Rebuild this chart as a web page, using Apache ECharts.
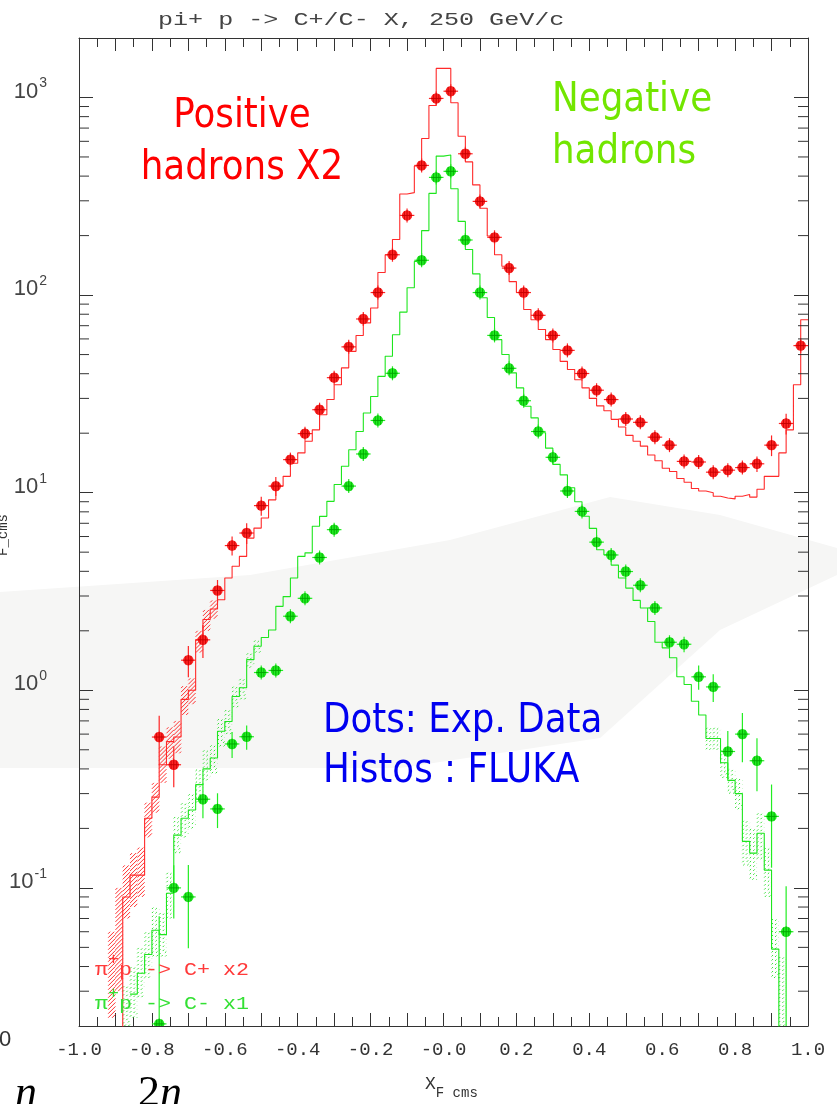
<!DOCTYPE html>
<html>
<head>
<meta charset="utf-8">
<title>pi+ p -> C+/C- X, 250 GeV/c</title>
<script src="https://cdn.jsdelivr.net/npm/echarts@6/dist/echarts.min.js"></script>
<style>
  html, body { margin: 0; padding: 0; background: #fff; }
  #chart { width: 837px; height: 1104px; }
</style>
</head>
<body>
<div id="chart"></div>
<script>
// FLUKA histograms, fixed width bins starting at histStart
var binWidth = 0.02
var redHistStart = -0.90
var redHist = [
  0.01, 0.090, 0.116, 0.116, 0.225, 0.288, 0.42, 0.55, 0.58, 0.90,
  1.0, 1.8, 2.28, 2.58, 2.87, 3.70, 4.24, 4.76, 5.89, 6.62,
  7.45, 9.2, 10.8, 12.1, 14.1, 15.9, 18.2, 20.8, 24.8, 29.6,
  35.2, 42.8, 51.9, 62.4, 72.3, 86.1, 130, 160, 191, 325,
  330, 450, 620, 911, 1403, 1403, 940, 637, 472, 361,
  275, 199, 160, 140, 117, 103, 84.5, 75, 67, 59.5,
  53, 46.2, 42, 37.3, 33.9, 30, 27.5, 26, 23.5, 21.5,
  19.5, 18.2, 17.2, 15.5, 14.5, 13.3, 12.8, 11.8, 11.3, 10.5,
  10.2, 10.0, 9.6, 9.4, 9.3, 9.6, 9.8, 9.5, 10.4, 12.1,
  12.1, 15.9, 20.8, 35.2, 75
]
var greenHistStart = -0.86
var greenHist = [
  0.029, 0.037, 0.046, 0.061, 0.058, 0.094, 0.185, 0.225, 0.248, 0.333,
  0.40, 0.454, 0.62, 0.695, 0.93, 1.03, 1.43, 1.67, 1.85, 2.02,
  2.66, 2.98, 3.70, 4.76, 4.96, 6.76, 7.59, 9.04, 11.0, 13.6,
  16.5, 20.4, 25.3, 30.7, 38.8, 49, 63, 82, 109, 148,
  212, 327, 505, 512, 345, 236, 170, 128, 97, 77,
  59.5, 50, 40.4, 33.9, 27.4, 23.9, 20.1, 16.8, 13.9, 12.3,
  10.6, 9.0, 7.6, 6.6, 5.14, 4.85, 4.3, 3.70, 3.29, 2.85,
  2.61, 2.23, 1.75, 1.64, 1.46, 1.17, 1.07, 0.88, 0.75, 0.57,
  0.57, 0.43, 0.35, 0.30, 0.172, 0.150, 0.189, 0.123, 0.049, 0.01
]

// hatched error bands of the histograms (bin left edge, low, high)
var redBandX  = [-0.92, -0.90, -0.88, -0.86, -0.84, -0.82, -0.80, -0.78, -0.76, -0.74, -0.72, -0.70, -0.68, -0.66, -0.64]
var redBandLo = [0.022, 0.03, 0.07, 0.08, 0.09, 0.18, 0.24, 0.34, 0.45, 0.48, 0.75, 0.85, 1.55, 2.0, 2.3]
var redBandHi = [0.06, 0.10, 0.13, 0.15, 0.16, 0.27, 0.34, 0.52, 0.65, 0.70, 1.05, 1.15, 2.0, 2.55, 2.85]
var greenBandX  = [-0.88, -0.86, -0.84, -0.82, -0.80, -0.78, -0.76, -0.74, -0.72, -0.70, -0.68, -0.66, -0.64, -0.62, -0.60, -0.58, -0.56, -0.54, -0.52,
  0.72, 0.74, 0.76, 0.78, 0.80, 0.82, 0.84, 0.86, 0.88, 0.90, 0.92]
var greenBandLo = [0.02, 0.022, 0.028, 0.035, 0.045, 0.045, 0.07, 0.15, 0.18, 0.2, 0.27, 0.35, 0.38, 0.52, 0.6, 0.82, 0.9, 1.3, 1.55,
  0.5, 0.5, 0.36, 0.3, 0.25, 0.13, 0.11, 0.14, 0.09, 0.035, 0.02]
var greenBandHi = [0.032, 0.04, 0.05, 0.06, 0.08, 0.075, 0.12, 0.23, 0.27, 0.3, 0.4, 0.5, 0.53, 0.72, 0.8, 1.05, 1.15, 1.55, 1.8,
  0.65, 0.65, 0.5, 0.4, 0.36, 0.22, 0.2, 0.24, 0.16, 0.07, 0.045]

// experimental points: x, value, relative error
var redX = [-0.78, -0.74, -0.70, -0.66, -0.62, -0.58, -0.54, -0.50, -0.46, -0.42, -0.38, -0.34, -0.30, -0.26, -0.22,
  -0.18, -0.14, -0.10, -0.06, -0.02, 0.02, 0.06, 0.10, 0.14, 0.18, 0.22, 0.26, 0.30, 0.34, 0.38,
  0.42, 0.46, 0.50, 0.54, 0.58, 0.62, 0.66, 0.70, 0.74, 0.78, 0.82, 0.86, 0.90, 0.94, 0.98]
var redY = [0.58, 0.42, 1.42, 1.80, 3.2, 5.4, 6.25, 8.6, 10.8, 14.7, 19.9, 26.3, 38.2, 54.7, 75.7,
  103, 160, 253, 453, 989, 1076, 519, 298, 196, 137, 103, 79, 62.5, 52.5, 40.1,
  33, 29.6, 23.6, 22.7, 19.1, 17.4, 14.4, 14.3, 12.7, 13.0, 13.4, 14.0, 17.4, 22.4, 55.5]
var redErr = [0.28, 0.23, 0.18, 0.19, 0.13, 0.11, 0.12, 0.11, 0.11, 0.08, 0.05, 0.05, 0.04, 0.04, 0.04,
  0.04, 0.04, 0.04, 0.04, 0.04, 0.04, 0.04, 0.04, 0.04, 0.04, 0.04, 0.04, 0.04, 0.04, 0.04,
  0.04, 0.04, 0.04, 0.04, 0.04, 0.04, 0.05, 0.05, 0.08, 0.07, 0.07, 0.09, 0.12, 0.12, 0.08]
var greenX = [-0.78, -0.74, -0.70, -0.66, -0.62, -0.58, -0.54, -0.50, -0.46, -0.42, -0.38, -0.34, -0.30, -0.26, -0.22,
  -0.18, -0.14, -0.06, -0.02, 0.02, 0.06, 0.10, 0.14, 0.18, 0.22, 0.26, 0.30, 0.34, 0.38,
  0.42, 0.46, 0.50, 0.54, 0.58, 0.62, 0.66, 0.70, 0.74, 0.78, 0.82, 0.86, 0.90, 0.94]
var greenY = [0.0205, 0.100, 0.090, 0.281, 0.251, 0.535, 0.582, 1.23, 1.26, 2.37, 2.92, 4.70, 6.5, 10.8, 15.7,
  23.2, 40.2, 150, 394, 423, 190, 103, 62.5, 42.6, 29.2, 20.4, 15.1, 10.2, 8.04,
  5.62, 4.84, 3.99, 3.40, 2.61, 1.75, 1.71, 1.17, 1.04, 0.49, 0.60, 0.44, 0.23, 0.060]
var greenErr = [2.5, 0.3, 0.45, 0.2, 0.2, 0.15, 0.14, 0.06, 0.06, 0.04, 0.04, 0.04, 0.04, 0.04, 0.04,
  0.04, 0.04, 0.04, 0.04, 0.04, 0.04, 0.04, 0.04, 0.04, 0.04, 0.04, 0.04, 0.04, 0.04,
  0.04, 0.04, 0.04, 0.04, 0.04, 0.05, 0.09, 0.14, 0.16, 0.27, 0.28, 0.30, 0.45, 0.70]

// tick labels
var xTickLabels = ['-1.0', '-0.8', '-0.6', '-0.4', '-0.2', '-0.0', '0.2', '0.4', '0.6', '0.8', '1.0']
var yMin = 0.02
var yMax = 2000

var monoFont = '"Liberation Mono", "DejaVu Sans Mono", monospace'
var axisColor = '#333'

function histData(start, vals) {
  var d = vals.map(function (v, i) { return [start + i * binWidth, v] })
  d.push([start + vals.length * binWidth, vals[vals.length - 1]])
  return d
}

// diagonal "/" hatch lines inside a pixel rectangle
function hatchLines(x0, y0, x1, y1, step, color, dash) {
  var out = []
  for (var c = x0 + y0 + step / 2; c < x1 + y1; c += step) {
    var xa = Math.max(x0, c - y1)
    var xb = Math.min(x1, c - y0)
    if (xb - xa < 0.5) continue
    out.push({
      type: 'line',
      shape: { x1: xa, y1: c - xa, x2: xb, y2: c - xb },
      style: { stroke: color, lineWidth: 1, lineDash: dash || null }
    })
  }
  return out
}

function bandSeries(xs, lo, hi, color, dash) {
  return {
    type: 'custom',
    clip: true,
    z: 1,
    silent: true,
    data: xs.map(function (x, i) { return [x, lo[i], hi[i]] }),
    renderItem: function (params, api) {
      var x = api.value(0)
      var a = api.coord([x, api.value(2)])
      var b = api.coord([x + binWidth, api.value(1)])
      return { type: 'group', children: hatchLines(a[0], a[1], b[0], b[1], 4, color, dash) }
    }
  }
}

function pointSeries(xs, ys, errs, fill, dark) {
  return {
    type: 'custom',
    clip: true,
    z: 5,
    data: xs.map(function (x, i) { return [x, ys[i], errs[i]] }),
    renderItem: function (params, api) {
      var x = api.value(0), v = api.value(1), f = api.value(2)
      var cs = params.coordSys
      var c = api.coord([x, v])
      var l = api.coord([x - 0.02, v])
      var r = api.coord([x + 0.02, v])
      var top = api.coord([x, v * (1 + f)])[1]
      var bot = v * (1 - f) > 0 ? api.coord([x, v * (1 - f)])[1] : cs.y + cs.height
      top = Math.min(top, c[1] - 7)
      bot = Math.max(bot, c[1] + 7)
      var px = c[0], py = c[1]
      function seg(x1, y1, x2, y2, color, w) {
        return { type: 'line', shape: { x1: x1, y1: y1, x2: x2, y2: y2 }, style: { stroke: color, lineWidth: w } }
      }
      return {
        type: 'group',
        children: [
          seg(l[0], py, r[0], py, fill, 1.2),
          seg(px, top, px, bot, fill, 1.2),
          { type: 'circle', shape: { cx: px, cy: py, r: 5.2 }, style: { fill: fill } },
          seg(px - 2.6, py - 4.3, px - 2.6, py + 4.3, dark, 0.8),
          seg(px + 2.6, py - 4.3, px + 2.6, py + 4.3, dark, 0.8),
          seg(px, py - 5.2, px, py + 5.2, dark, 1),
          seg(px - 5.2, py, px + 5.2, py, dark, 1)
        ]
      }
    }
  }
}

// 2..9 x 10^k minor ticks of the log axis
var yMinorTicks = []
for (var e = -2; e <= 3; e++) {
  for (var m = 2; m <= 9; m++) {
    var t = m * Math.pow(10, e)
    if (t > yMin && t < yMax) yMinorTicks.push(t)
  }
}

var chart = echarts.init(document.getElementById('chart'), null, { renderer: 'canvas' })

var xAxisBase = {
  type: 'value',
  min: -1,
  max: 1,
  interval: 0.1,
  axisLine: { onZero: false, lineStyle: { color: axisColor, width: 1 } },
  axisTick: { inside: true, length: 13, lineStyle: { color: axisColor } },
  minorTick: { show: true, splitNumber: 2, length: 9, lineStyle: { color: axisColor } },
  splitLine: { show: false }
}
var yAxisBase = {
  type: 'log',
  min: yMin,
  max: yMax,
  logBase: 10,
  axisLine: { onZero: false, lineStyle: { color: axisColor, width: 1 } },
  axisTick: { inside: true, length: 14, lineStyle: { color: axisColor } },
  splitLine: { show: false }
}

var option = {
  backgroundColor: '#fff',
  animation: false,
  grid: { left: 79, right: 29, top: 38, bottom: 78 },
  xAxis: [
    Object.assign({}, xAxisBase, {
      position: 'bottom',
      axisLabel: {
        margin: 14,
        color: axisColor,
        fontFamily: monoFont,
        fontSize: 19,
        formatter: function (v) {
          var k = Math.round((v + 1) * 10)
          if (k % 2 !== 0) return ''
          return xTickLabels[k / 2] || ''
        }
      }
    }),
    Object.assign({}, xAxisBase, { position: 'top', axisLabel: { show: false } })
  ],
  yAxis: [
    Object.assign({}, yAxisBase, {
      position: 'left',
      axisLabel: {
        margin: 32,
        color: axisColor,
        formatter: function (v) {
          var lg = Math.log10(v)
          var ex = Math.round(lg)
          if (Math.abs(lg - ex) > 1e-6) return ''
          return '{b|10}{s|' + ex + '}'
        },
        rich: {
          b: { fontFamily: '"Liberation Sans", Arial', fontSize: 22, color: '#444', padding: [0, 0, 12, 0] },
          s: { fontFamily: '"Liberation Sans", Arial', fontSize: 14, color: '#444', padding: [0, 0, 28, 1] }
        }
      }
    }),
    Object.assign({}, yAxisBase, { position: 'right', axisLabel: { show: false } })
  ],
  series: [
    bandSeries(redBandX, redBandLo, redBandHi, '#ff3030', null),
    bandSeries(greenBandX, greenBandLo, greenBandHi, '#33e033', [2, 3]),
    {
      name: 'FLUKA C+ x2',
      type: 'line',
      step: 'end',
      symbol: 'none',
      clip: true,
      z: 3,
      data: histData(redHistStart, redHist),
      lineStyle: { color: '#ff2a2a', width: 1.1 }
    },
    {
      name: 'FLUKA C- x1',
      type: 'line',
      step: 'end',
      symbol: 'none',
      clip: true,
      z: 3,
      data: histData(greenHistStart, greenHist),
      lineStyle: { color: '#1ee61e', width: 1.1 }
    },
    pointSeries(redX, redY, redErr, '#ff2424', '#c80000'),
    pointSeries(greenX, greenY, greenErr, '#22ee22', '#00a800'),
    {
      // minor ticks 2..9 on both y sides
      type: 'custom',
      silent: true,
      z: 6,
      data: yMinorTicks.map(function (v) { return [0, v] }),
      renderItem: function (params, api) {
        var cs = params.coordSys
        var y = api.coord([0, api.value(1)])[1]
        var st = { stroke: axisColor, lineWidth: 1 }
        return {
          type: 'group',
          children: [
            { type: 'line', shape: { x1: cs.x, y1: y, x2: cs.x + 10, y2: y }, style: st },
            { type: 'line', shape: { x1: cs.x + cs.width - 10, y1: y, x2: cs.x + cs.width, y2: y }, style: st }
          ]
        }
      }
    }
  ],
  graphic: [
    {
      // faint grey swoosh of the background logo
      type: 'polygon', z: -10, silent: true,
      shape: { points: [[0, 592], [250, 575], [450, 540], [610, 497], [720, 515], [837, 548], [837, 575], [720, 630], [600, 738], [400, 768], [0, 768]] },
      style: { fill: '#f6f6f5' }
    },
    {
      type: 'text', x: 158, y: 20, scaleX: 1.32, z: 10,
      style: { text: 'pi+ p -> C+/C- X, 250 GeV/c', fontFamily: monoFont, fontSize: 19, fill: '#444',
        align: 'left', textAlign: 'left', verticalAlign: 'middle', textVerticalAlign: 'middle' }
    },
    {
      type: 'text', x: 242, y: 142, scaleX: 0.87, z: 10,
      style: { text: 'Positive\nhadrons X2', fontFamily: '"DejaVu Sans"', fontSize: 41, lineHeight: 52, fill: '#ff0000',
        align: 'center', textAlign: 'center', verticalAlign: 'middle', textVerticalAlign: 'middle' }
    },
    {
      type: 'text', x: 552, y: 126, scaleX: 0.87, z: 10,
      style: { text: 'Negative\nhadrons', fontFamily: '"DejaVu Sans"', fontSize: 41, lineHeight: 52, fill: '#72e600',
        align: 'left', textAlign: 'left', verticalAlign: 'middle', textVerticalAlign: 'middle' }
    },
    {
      type: 'text', x: 323, y: 746, scaleX: 0.87, z: 10,
      style: { text: 'Dots: Exp. Data\nHistos : FLUKA', fontFamily: '"DejaVu Sans"', fontSize: 41, lineHeight: 50, fill: '#0000f0',
        align: 'left', textAlign: 'left', verticalAlign: 'middle', textVerticalAlign: 'middle' }
    },
    {
      type: 'text', x: 95, y: 966, scaleX: 1.14, z: 10,
      style: { text: '{a|π}{s|+}{a|p -> C+ x2}', fill: '#ff3a3a', align: 'left', textAlign: 'left', verticalAlign: 'middle', textVerticalAlign: 'middle',
        rich: {
          a: { fontFamily: monoFont, fontSize: 19, fill: '#ff3a3a', padding: [8, 0, 0, 0] },
          s: { fontFamily: monoFont, fontSize: 16, fill: '#ff3a3a', padding: [0, 0, 12, 0] }
        } }
    },
    {
      type: 'text', x: 95, y: 1000, scaleX: 1.14, z: 10,
      style: { text: '{a|π}{s|+}{a|p -> C- x1}', fill: '#33e033', align: 'left', textAlign: 'left', verticalAlign: 'middle', textVerticalAlign: 'middle',
        rich: {
          a: { fontFamily: monoFont, fontSize: 19, fill: '#33e033', padding: [8, 0, 0, 0] },
          s: { fontFamily: monoFont, fontSize: 16, fill: '#33e033', padding: [0, 0, 12, 0] }
        } }
    },
    {
      type: 'text', x: 425, y: 1088, z: 10,
      style: { text: '{x|X}{f|F cms}', align: 'left', textAlign: 'left', verticalAlign: 'middle', textVerticalAlign: 'middle',
        rich: {
          x: { fontFamily: monoFont, fontSize: 18, fill: '#333', padding: [0, 0, 8, 0] },
          f: { fontFamily: monoFont, fontSize: 14, fill: '#333', padding: [10, 0, 0, 0] }
        } }
    },
    {
      type: 'text', x: 10, y: 535, rotation: Math.PI / 2, z: 10,
      style: { text: 'F_cms', fontFamily: monoFont, fontSize: 14, fill: '#333',
        align: 'center', textAlign: 'center', verticalAlign: 'bottom', textVerticalAlign: 'bottom' }
    },
    {
      type: 'text', x: -1, y: 1040, z: 10,
      style: { text: '0', fontFamily: '"Liberation Sans", Arial', fontSize: 22, fill: '#333',
        align: 'left', textAlign: 'left', verticalAlign: 'middle', textVerticalAlign: 'middle' }
    },
    {
      type: 'text', x: 15, y: 1116, z: 10,
      style: { text: 'n', fontFamily: '"Liberation Serif", serif', fontStyle: 'italic', fontSize: 44, fill: '#000',
        align: 'left', textAlign: 'left', verticalAlign: 'bottom', textVerticalAlign: 'bottom' }
    },
    {
      type: 'text', x: 138, y: 1116, z: 10,
      style: { text: '{r|2}{i|n}', align: 'left', textAlign: 'left', verticalAlign: 'bottom', textVerticalAlign: 'bottom',
        rich: {
          r: { fontFamily: '"Liberation Serif", serif', fontSize: 44, fill: '#000' },
          i: { fontFamily: '"Liberation Serif", serif', fontStyle: 'italic', fontSize: 44, fill: '#000' }
        } }
    }
  ]
}

chart.setOption(option)
</script>
</body>
</html>
